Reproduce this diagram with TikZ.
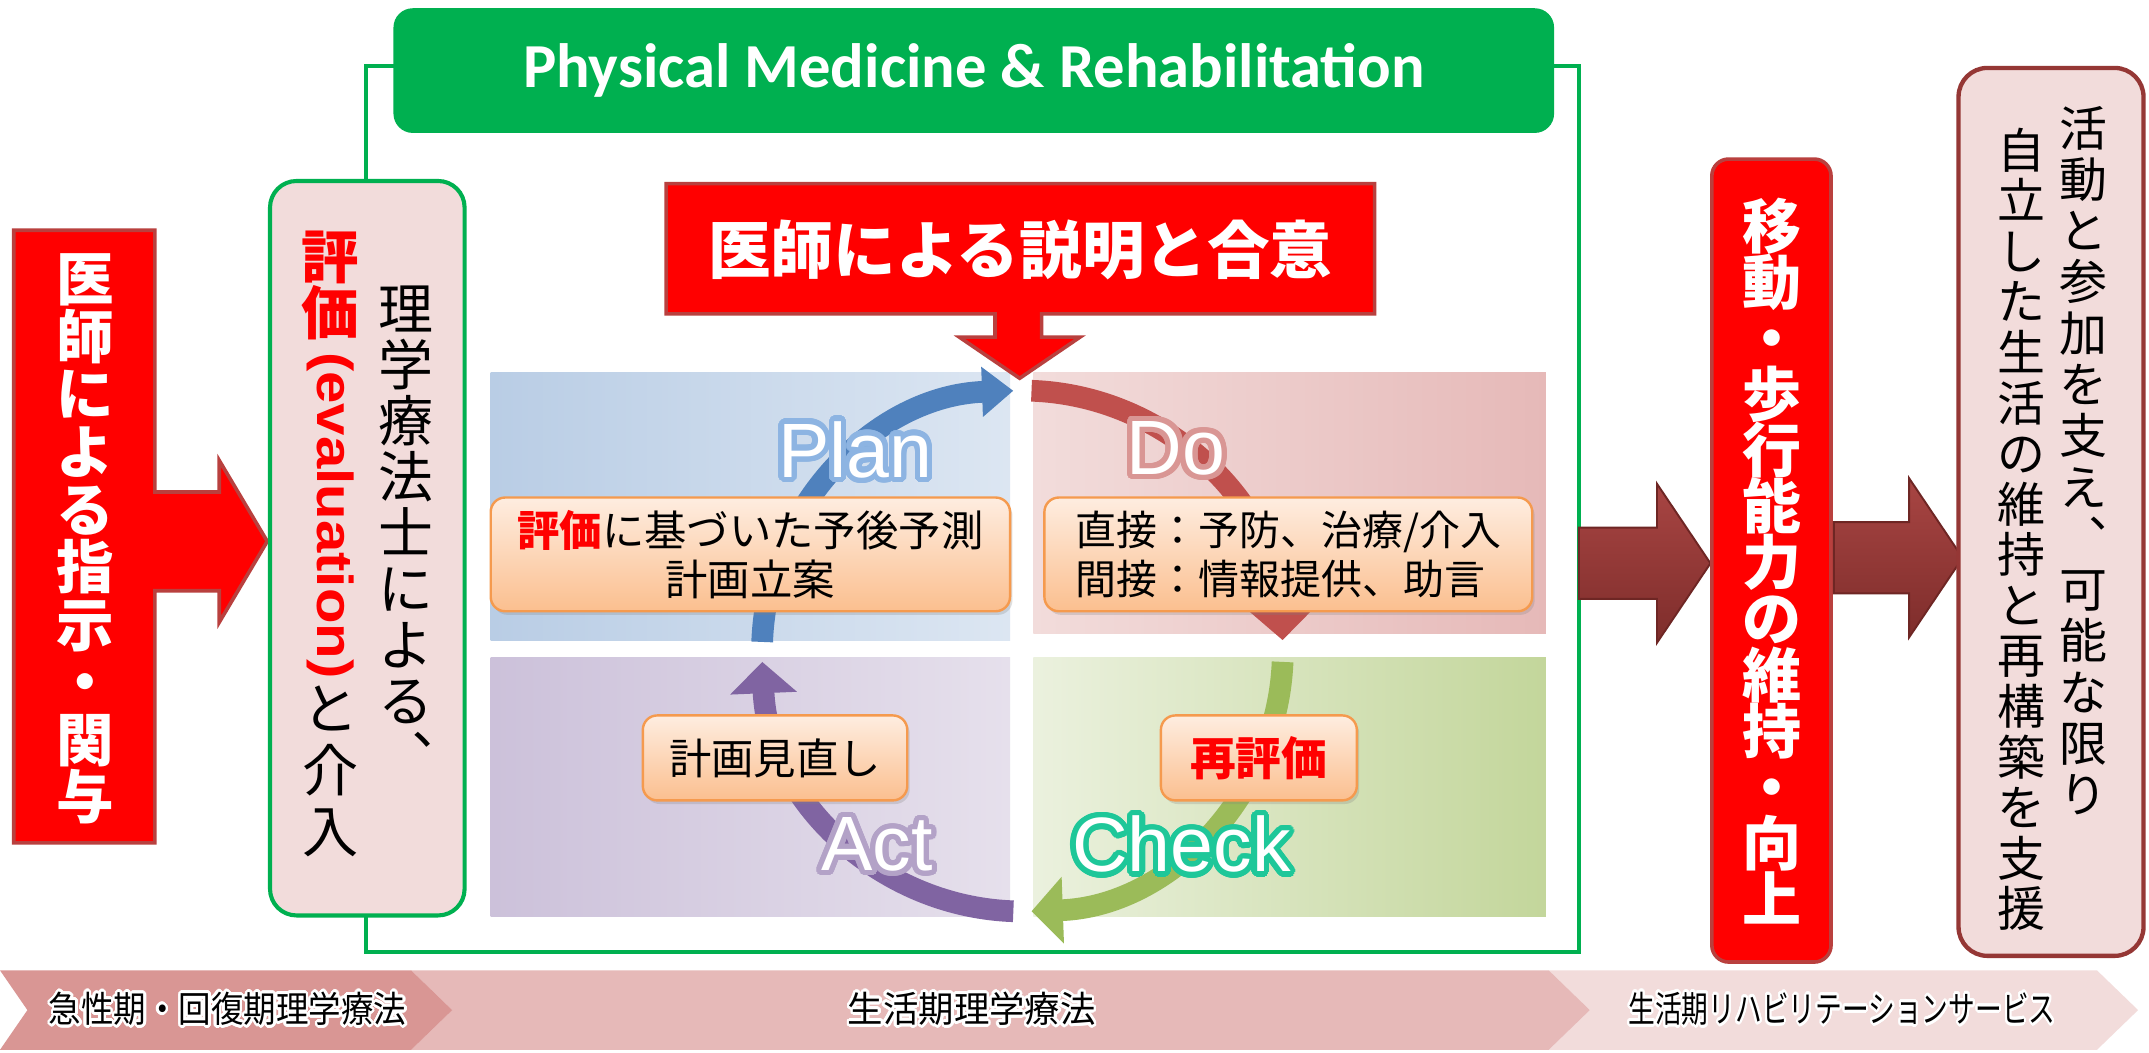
\documentclass[tikz,border=0pt]{standalone}
\usepackage{fontspec}
\setmainfont{Liberation Sans}
\newfontfamily\jp{Noto Sans CJK JP}
\newfontfamily\calib{Carlito}
\usepackage{contour}
\contournumber{32}
\usetikzlibrary{arrows.meta,shadows}
\lineskiplimit=-100pt
\definecolor{pmgreen}{HTML}{00B050}
\definecolor{redborder}{HTML}{B9403E}
\definecolor{evalfill}{HTML}{F2DCDB}
\definecolor{browntop}{HTML}{A84543}
\definecolor{brownbot}{HTML}{7E2D2B}
\definecolor{brownline}{HTML}{6E2624}
\definecolor{orgtop}{HTML}{FEEDE0}
\definecolor{orgbot}{HTML}{FBBF8F}
\definecolor{orgline}{HTML}{F59A4E}
\definecolor{planL}{HTML}{B9CDE5}
\definecolor{planR}{HTML}{DCE6F2}
\definecolor{doL}{HTML}{F2DCDB}
\definecolor{doR}{HTML}{E6B9B8}
\definecolor{actL}{HTML}{CCC1DA}
\definecolor{actR}{HTML}{E6E0EC}
\definecolor{chkL}{HTML}{EBF1DE}
\definecolor{chkR}{HTML}{C3D69B}
\definecolor{arcblue}{HTML}{4F81BD}
\definecolor{arcred}{HTML}{C0504D}
\definecolor{arcgreen}{HTML}{9BBB59}
\definecolor{arcpurple}{HTML}{8064A2}
\definecolor{lblplan}{HTML}{8DB4E2}
\definecolor{lbldo}{HTML}{D99694}
\definecolor{lblact}{HTML}{B3A2C7}
\definecolor{lblchk}{HTML}{1EC799}
\definecolor{bar1}{HTML}{D99694}
\definecolor{bar2}{HTML}{E6B9B8}
\definecolor{bar3}{HTML}{F2DCDB}
\definecolor{goalline}{HTML}{953735}
\begin{document}
\begin{tikzpicture}[x=0.02cm,y=-0.02cm,
  callout/.style={fill=red, draw=redborder, line width=1.5pt, line join=miter},
  blockarrow/.style={top color=browntop, bottom color=brownbot, draw=brownline, line width=0.8pt, line join=miter},
  vstack/.style={align=center, inner sep=0pt, anchor=north},
  obox/.style={rounded corners=6pt, draw=orgline, line width=1pt, top color=orgtop, bottom color=orgbot,
     drop shadow={opacity=0.25, shadow xshift=1pt, shadow yshift=-1.5pt},
     font=\jp\fontsize{17.6pt}{20.5pt}\selectfont, align=center, inner sep=2pt},
  pdca/.style={text=white, font=\fontsize{32pt}{32pt}\selectfont, inner sep=0pt},
  cyc/.style={line width=9pt},
  bartext/.style={font=\jp\fontsize{15pt}{15pt}\selectfont, inner sep=0pt}
]
\useasboundingbox (0,0) rectangle (1568,767.6);
\fill[white] (0,0) rectangle (1568,767.6);

% bottom bar
\fill[bar3] (1130,708) -- (1530,708) -- (1560,737) -- (1530,766) -- (1130,766) -- (1160,737) -- cycle;
\fill[bar2] (300,708) -- (1130,708) -- (1160,737) -- (1130,766) -- (300,766) -- (330,737) -- cycle;
\fill[bar1] (0,708) -- (300,708) -- (330,737) -- (300,766) -- (0,766) -- (20,737) -- cycle;
\node[bartext] (bar1t) at (166,737) {\scalebox{0.9}[1]{\contourlength{1.1pt}\contour{white}{急性期・回復期理学療法}}};
\node[bartext] (bar2t) at (709,737) {\scalebox{0.98}[1]{\contourlength{1.1pt}\contour{white}{生活期理学療法}}};
\node[bartext] (bar3t) at (1344,737) {\scalebox{0.74}[1]{\contourlength{1.1pt}\contour{white}{生活期リハビリテーションサービス}}};

% green frame and header
\node[draw=pmgreen, line width=1.7pt, minimum width=17.7cm, minimum height=12.94cm, inner sep=0pt] (frame) at (709.5,371.5) {};
\node[fill=pmgreen, rounded corners=8pt, minimum width=16.94cm, minimum height=1.82cm, inner sep=0pt,
      text=white, font=\calib\bfseries\fontsize{26pt}{26pt}\selectfont] (header) at (710.5,51.5) {Physical Medicine \& Rehabilitation};

% left callout
\path[callout] (10,168) -- (113,168) -- (113,359) -- (160,359) -- (160,336) -- (195,395) -- (160,454) -- (160,431) -- (113,431) -- (113,615) -- (10,615) -- cycle;
\node[vstack, text=white, font=\jp\bfseries\fontsize{23.9pt}{23.9pt}\selectfont] (lefttext) at (62,185) {医\\師\\に\\よ\\る\\指\\示\\・\\関\\与};

% evaluation box
\node[draw=pmgreen, fill=evalfill, rounded corners=11pt, line width=1.7pt, minimum width=2.84cm, minimum height=10.72cm, inner sep=0pt] (eval) at (268,400) {};
\node[vstack, text=red, font=\jp\bfseries\fontsize{23.9pt}{23.3pt}\selectfont] (evalA) at (241,168) {評\\価};
\node[text=red, rotate=-90, inner sep=0pt, font=\bfseries\fontsize{21pt}{21pt}\selectfont] (evalB) at (241,376) {\scalebox{1.15}[1]{(evaluation)}};
\node[vstack, text=black, font=\jp\fontsize{23.3pt}{25.6pt}\selectfont] (evalC) at (241,500) {と\\介\\入};
\node[vstack, text=black, font=\jp\fontsize{22.8pt}{23.3pt}\selectfont] (evalD) at (296,208) {理\\学\\療\\法\\士\\に\\よ\\る\\︑};

% quadrants
\shade[left color=planL, right color=planR] (358,272) rectangle (737,467);
\shade[left color=doL, right color=doR] (754,272) rectangle (1128,462);
\shade[left color=actL, right color=actR] (358,480) rectangle (737,669);
\shade[left color=chkL, right color=chkR] (754,480) rectangle (1128,669);

% cycle arcs
\coordinate (cc) at (746,475);
\draw[cyc, arcblue, -{Triangle[width=20pt,length=13pt]}] (cc) ++(182:190) arc[start angle=182, end angle=268, radius=190];
\draw[cyc, arcred, -{Triangle[width=27pt,length=13pt]}] (cc) ++(272:190) arc[start angle=272, end angle=357.6, radius=190];
\draw[cyc, arcgreen, -{Triangle[width=27pt,length=13pt]}] (cc) ++(2.4:190) arc[start angle=2.4, end angle=88, radius=190];
\draw[cyc, arcpurple, -{Triangle[width=27pt,length=13pt]}] (cc) ++(92:190) arc[start angle=92, end angle=177.6, radius=190];

% orange boxes
\node[obox, minimum width=7.58cm, minimum height=1.66cm] (planbox) at (547.5,404.5) {{\color{red}\bfseries 評価}に基づいた予後予測\\計画立案};
\node[obox, minimum width=7.12cm, minimum height=1.66cm, align=left, font=\jp\fontsize{17pt}{20.5pt}\selectfont] (dobox) at (940,404.5) {直接：予防、治療/介入\\間接：情報提供、助言};
\node[obox, minimum width=3.86cm, minimum height=1.24cm] (actbox) at (565.5,553) {計画見直し};
\node[obox, minimum width=2.86cm, minimum height=1.24cm, text=red, font=\jp\bfseries\fontsize{19pt}{19pt}\selectfont] (chkbox) at (918.5,553) {再評価};

% PDCA labels
\node[pdca] (plan) at (624,330) {\contourlength{2.2pt}\contour{lblplan}{Plan}};
\node[pdca] (do) at (858,329) {\contourlength{2.2pt}\contour{lbldo}{Do}};
\node[pdca] (act) at (640,618) {\contourlength{2.2pt}\contour{lblact}{Act}};
\node[pdca] (check) at (862,618) {\contourlength{2.2pt}\contour{lblchk}{Check}};

% top callout
\path[callout] (486,134) -- (1003,134) -- (1003,229) -- (760,229) -- (760,246) -- (788,246) -- (744,276) -- (700,246) -- (726,246) -- (726,229) -- (486,229) -- cycle;
\node[text=white, inner sep=0pt, font=\jp\bfseries\fontsize{26pt}{26pt}\selectfont] (toptext) at (744.5,182) {医師による説明と合意};

% right side
\path[blockarrow] (1152,385) -- (1209,385) -- (1209,353) -- (1248,411) -- (1209,469) -- (1209,437) -- (1152,437) -- cycle;
\node[draw=redborder, fill=red, rounded corners=7pt, line width=1.5pt, minimum width=1.74cm, minimum height=11.72cm, inner sep=0pt] (mobbox) at (1292.5,409) {};
\node[vstack, text=white, font=\jp\bfseries\fontsize{24.5pt}{23.3pt}\selectfont] (mobtext) at (1293,144) {移\\動\\・\\歩\\行\\能\\力\\の\\維\\持\\・\\向\\上};
\path[blockarrow] (1338,381) -- (1393,381) -- (1393,349) -- (1432,407) -- (1393,465) -- (1393,433) -- (1338,433) -- cycle;
\node[draw=goalline, fill=evalfill, rounded corners=12pt, line width=1.8pt, minimum width=2.7cm, minimum height=12.96cm, inner sep=0pt] (goalbox) at (1496.5,373.5) {};
\node[vstack, text=black, font=\jp\fontsize{19.9pt}{21.3pt}\selectfont] (goalR) at (1520,77) {活\\動\\と\\参\\加\\を\\支\\え\\︑\\可\\能\\な\\限\\り};
\node[vstack, text=black, font=\jp\fontsize{19.9pt}{21pt}\selectfont] (goalL) at (1475,93) {自\\立\\し\\た\\生\\活\\の\\維\\持\\と\\再\\構\\築\\を\\支\\援};
\end{tikzpicture}
\end{document}
